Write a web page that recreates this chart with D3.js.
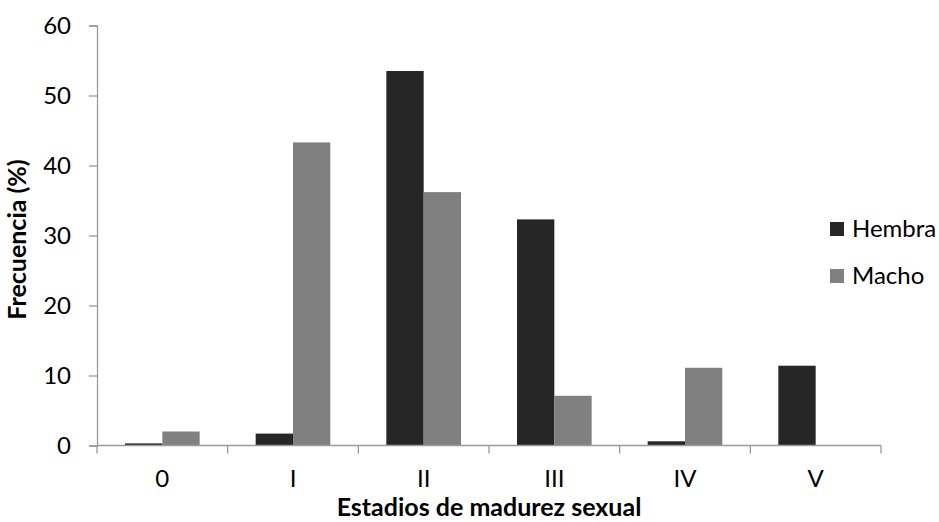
<!DOCTYPE html>
<html>
<head>
<meta charset="utf-8">
<script src="https://cdn.jsdelivr.net/npm/d3@7"></script>
<style>
  body { margin: 0; background: #fff; }
  svg { display: block; }
  text { font-family: Lato, "Open Sans", sans-serif; fill: #000; }
</style>
</head>
<body>
<svg id="chart" width="939" height="522"></svg>
<script>
const categories = ["0", "I", "II", "III", "IV", "V"];
const seriesNames = ["Hembra", "Macho"];
const hembra = [0.3, 1.7, 53.5, 32.3, 0.6, 11.4];
const macho = [2.0, 43.3, 36.2, 7.1, 11.1, 0];
const yTicks = [0, 10, 20, 30, 40, 50, 60];
const colors = ["#262626", "#808080"];

const W = 939, H = 522;
const margin = { top: 25.5, right: 58, bottom: 76.5, left: 97 };
const iw = W - margin.left - margin.right;
const ih = H - margin.top - margin.bottom;
const fs = 24, fsBold = 25;

const svg = d3.select("#chart");
const g = svg.append("g").attr("transform", `translate(${margin.left},${margin.top})`);

const x = d3.scaleBand().domain(categories).range([0, iw]).paddingInner(0).paddingOuter(0);
const gapRatio = 1.5; // gap width 150%
const barW = x.bandwidth() / (2 + gapRatio);
const x1 = d3.scaleBand().domain(seriesNames)
  .range([barW * gapRatio / 2, barW * gapRatio / 2 + 2 * barW]);
const y = d3.scaleLinear().domain([0, 60]).range([ih, 0]);

const data = categories.map((c, i) => ({ cat: c, vals: [hembra[i], macho[i]] }));

// bars
const grp = g.selectAll("g.cat").data(data).join("g")
  .attr("class", "cat")
  .attr("transform", d => `translate(${x(d.cat)},0)`);
grp.selectAll("rect").data(d => d.vals.map((v, k) => ({ v, k })))
  .join("rect")
  .attr("x", d => x1(seriesNames[d.k]))
  .attr("width", x1.bandwidth())
  .attr("y", d => y(d.v))
  .attr("height", d => ih - y(d.v))
  .attr("fill", d => colors[d.k]);

const axisColor = "#9a9a9a";

// y axis
const yAxis = g.append("g")
  .call(d3.axisLeft(y).tickValues(yTicks).tickSize(8).tickPadding(18).tickFormat(d3.format("d")));
yAxis.select(".domain").attr("stroke", axisColor).attr("stroke-width", 1.3);
yAxis.selectAll(".tick line").attr("stroke", axisColor).attr("stroke-width", 1.3);
yAxis.selectAll(".tick text").attr("font-size", fs).attr("font-family", "Lato").attr("fill", "#000");

// x axis
const xAxis = g.append("g").attr("transform", `translate(0,${ih})`);
xAxis.append("line").attr("x1", 0).attr("x2", iw).attr("y1", 0).attr("y2", 0)
  .attr("stroke", axisColor).attr("stroke-width", 1.3);
const bounds = categories.map(c => x(c)).concat([x(categories[categories.length - 1]) + x.bandwidth()]);
xAxis.selectAll("line.tk").data(bounds).join("line").attr("class", "tk")
  .attr("x1", d => d).attr("x2", d => d).attr("y1", 0).attr("y2", 8)
  .attr("stroke", axisColor).attr("stroke-width", 1.3);
xAxis.selectAll("text.lbl").data(categories).join("text").attr("class", "lbl")
  .attr("x", d => x(d) + x.bandwidth() / 2)
  .attr("y", 41)
  .attr("text-anchor", "middle")
  .attr("font-size", fs)
  .text(d => d);

// axis titles
svg.append("text")
  .attr("x", margin.left + iw / 2)
  .attr("y", 516)
  .attr("text-anchor", "middle")
  .attr("font-size", fsBold)
  .attr("font-weight", "bold")
  .text("Estadios de madurez sexual");

svg.append("text")
  .attr("transform", `translate(26,${margin.top + ih / 2 + 4}) rotate(-90)`)
  .attr("text-anchor", "middle")
  .attr("font-size", fsBold)
  .attr("font-weight", "bold")
  .text("Frecuencia (%)");

// legend
const leg = svg.append("g");
const legY = [222, 269];
seriesNames.forEach((s, k) => {
  leg.append("rect").attr("x", 830).attr("y", legY[k]).attr("width", 14).attr("height", 14).attr("fill", colors[k]);
  leg.append("text").attr("x", 852).attr("y", legY[k] + 15).attr("font-size", fs).text(s);
});
</script>
</body>
</html>
